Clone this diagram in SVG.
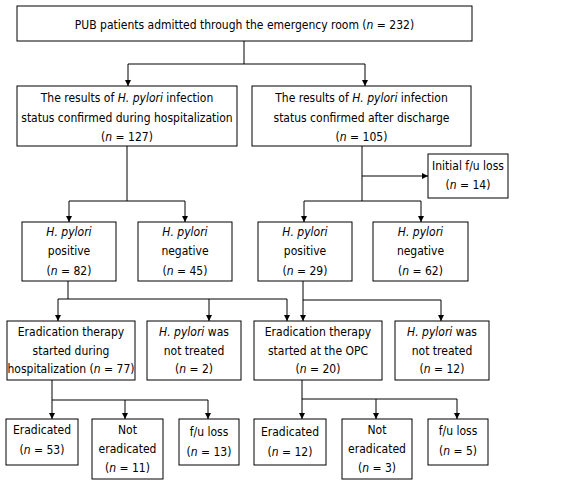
<svg xmlns="http://www.w3.org/2000/svg" width="576" height="487" viewBox="0 0 576 487">
<style>
rect{fill:#fff;stroke:#000;stroke-width:1}
text{font-family:"DejaVu Sans Condensed","DejaVu Sans",sans-serif;font-size:12px;text-anchor:middle;fill:#000}
.i{font-style:italic}
.c path{fill:none;stroke:#000;stroke-width:1}
</style>
<defs>
<marker id="a" viewBox="0 0 10 10" refX="10" refY="5" markerWidth="6" markerHeight="6" markerUnits="userSpaceOnUse" orient="auto"><path d="M0,0L10,5L0,10z" fill="#000"/></marker>
</defs>
<rect x="0" y="0" width="576" height="487" style="stroke:none"/>
<g class="c">
<path d="M244,41V64M128,64H365"/>
<path d="M128,64V86" marker-end="url(#a)"/>
<path d="M365,64V86" marker-end="url(#a)"/>
<path d="M127,146V201M69,201H185"/>
<path d="M69,201V222" marker-end="url(#a)"/>
<path d="M185,201V222" marker-end="url(#a)"/>
<path d="M362,146V201M304,201H421"/>
<path d="M362,176H428" marker-end="url(#a)"/>
<path d="M304,201V222" marker-end="url(#a)"/>
<path d="M421,201V222" marker-end="url(#a)"/>
<path d="M68,281V299M58,299H287"/>
<path d="M58,299V321" marker-end="url(#a)"/>
<path d="M209,299V321" marker-end="url(#a)"/>
<path d="M287,299V321" marker-end="url(#a)"/>
<path d="M303,281V300H441"/>
<path d="M303,300V321" marker-end="url(#a)"/>
<path d="M441,300V321" marker-end="url(#a)"/>
<path d="M52,380V400H208"/>
<path d="M52,400V419" marker-end="url(#a)"/>
<path d="M125,400V419" marker-end="url(#a)"/>
<path d="M208,400V419" marker-end="url(#a)"/>
<path d="M302,380V399H457"/>
<path d="M302,399V419" marker-end="url(#a)"/>
<path d="M376,399V419" marker-end="url(#a)"/>
<path d="M457,399V419" marker-end="url(#a)"/>
</g>
<g id="top"><rect x="17" y="6" width="455" height="35"/><text x="244.5" y="29">PUB patients admitted through the emergency room (<tspan class="i">n</tspan> = 232)</text></g>
<g id="during"><rect x="17" y="86" width="220" height="60"/><text x="127" y="102">The results of <tspan class="i">H. pylori</tspan> infection</text><text x="127" y="122">status confirmed during hospitalization</text><text x="127" y="141">(<tspan class="i">n</tspan> = 127)</text></g>
<g id="after"><rect x="252" y="86" width="219" height="60"/><text x="361.5" y="102">The results of <tspan class="i">H. pylori</tspan> infection</text><text x="361.5" y="122">status confirmed after discharge</text><text x="361.5" y="141">(<tspan class="i">n</tspan> = 105)</text></g>
<g id="fuloss"><rect x="428" y="154" width="80" height="44"/><text x="468" y="170">Initial f/u loss</text><text x="468" y="189">(<tspan class="i">n</tspan> = 14)</text></g>
<g id="pos1"><rect x="22" y="222" width="94" height="59"/><text x="69" y="236" class="i">H. pylori</text><text x="69" y="255">positive</text><text x="69" y="275">(<tspan class="i">n</tspan> = 82)</text></g>
<g id="neg1"><rect x="138" y="222" width="94" height="59"/><text x="185" y="236" class="i">H. pylori</text><text x="185" y="255">negative</text><text x="185" y="275">(<tspan class="i">n</tspan> = 45)</text></g>
<g id="pos2"><rect x="258" y="222" width="94" height="59"/><text x="305" y="236" class="i">H. pylori</text><text x="305" y="255">positive</text><text x="305" y="275">(<tspan class="i">n</tspan> = 29)</text></g>
<g id="neg2"><rect x="373" y="222" width="95" height="59"/><text x="420.5" y="236" class="i">H. pylori</text><text x="420.5" y="255">negative</text><text x="420.5" y="275">(<tspan class="i">n</tspan> = 62)</text></g>
<g id="erad1"><rect x="7" y="321" width="128" height="59"/><text x="71" y="336">Eradication therapy</text><text x="71" y="355">started during</text><text x="71" y="373">hospitalization (<tspan class="i">n</tspan> = 77)</text></g>
<g id="nt1"><rect x="147" y="321" width="94" height="59"/><text x="194" y="336"><tspan class="i">H. pylori</tspan> was</text><text x="194" y="355">not treated</text><text x="194" y="373">(<tspan class="i">n</tspan> = 2)</text></g>
<g id="erad2"><rect x="254" y="321" width="128" height="59"/><text x="318" y="336">Eradication therapy</text><text x="318" y="355">started at the OPC</text><text x="318" y="373">(<tspan class="i">n</tspan> = 20)</text></g>
<g id="nt2"><rect x="395" y="321" width="94" height="59"/><text x="442" y="336"><tspan class="i">H. pylori</tspan> was</text><text x="442" y="355">not treated</text><text x="442" y="373">(<tspan class="i">n</tspan> = 12)</text></g>
<g id="e1"><rect x="6" y="419" width="72" height="46"/><text x="42" y="434">Eradicated</text><text x="42" y="454">(<tspan class="i">n</tspan> = 53)</text></g>
<g id="ne1"><rect x="92" y="419" width="71" height="60"/><text x="127.5" y="434">Not</text><text x="127.5" y="453">eradicated</text><text x="127.5" y="472">(<tspan class="i">n</tspan> = 11)</text></g>
<g id="fu1"><rect x="179" y="419" width="60" height="46"/><text x="209" y="436">f/u loss</text><text x="209" y="456">(<tspan class="i">n</tspan> = 13)</text></g>
<g id="e2"><rect x="254" y="419" width="72" height="46"/><text x="290" y="436">Eradicated</text><text x="290" y="456">(<tspan class="i">n</tspan> = 12)</text></g>
<g id="ne2"><rect x="342" y="419" width="70" height="60"/><text x="377" y="434">Not</text><text x="377" y="453">eradicated</text><text x="377" y="472">(<tspan class="i">n</tspan> = 3)</text></g>
<g id="fu2"><rect x="428" y="419" width="60" height="46"/><text x="458" y="435">f/u loss</text><text x="458" y="455">(<tspan class="i">n</tspan> = 5)</text></g>
</svg>
